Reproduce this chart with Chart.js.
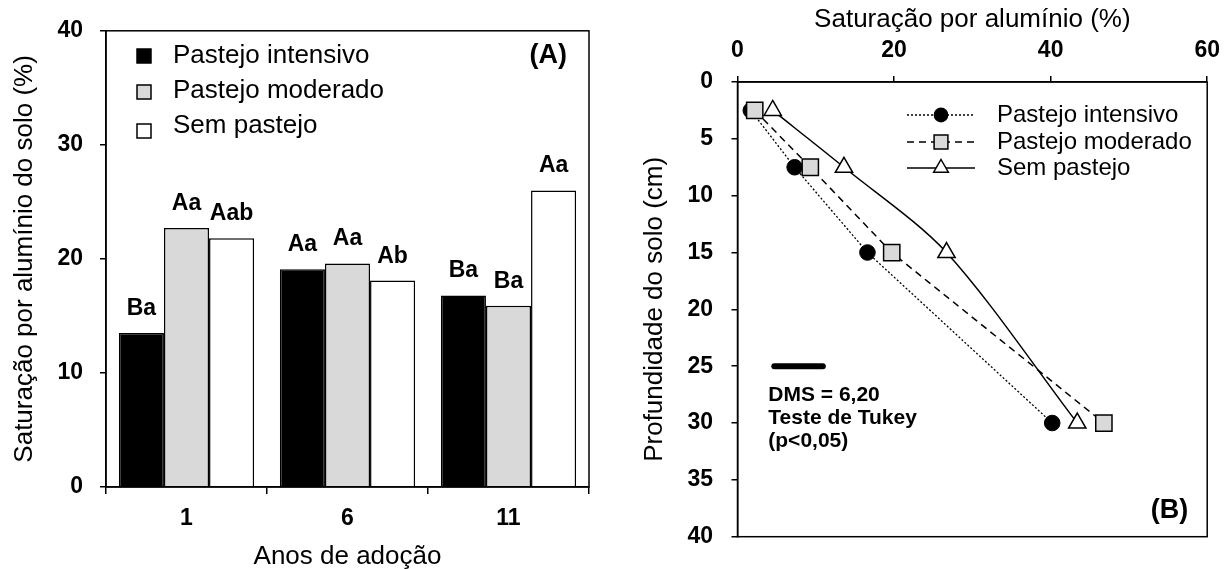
<!DOCTYPE html>
<html lang="pt">
<head>
<meta charset="UTF-8">
<title>Saturação por alumínio</title>
<script src="https://cdn.jsdelivr.net/npm/chart.js@4"></script>
<style>
  html, body { margin: 0; padding: 0; background: #fff; overflow: hidden; }
  canvas { position: absolute; top: 0; }
</style>
</head>
<body>
<canvas id="barChart" width="616" height="569" style="left:0"></canvas>
<canvas id="depthChart" width="616" height="569" style="left:616px"></canvas>
<script>
const FONT = '"Liberation Sans", Arial, sans-serif';
Chart.defaults.font.family = FONT;
Chart.defaults.color = '#000';

// (A) anos de adoção
const anos = ['1', '6', '11'];
const barIntensivo = [13.5, 19.1, 16.8];
const barModerado = [22.7, 19.6, 15.9];
const barSemPastejo = [21.8, 18.1, 26.0];
const letrasIntensivo = ['Ba', 'Aa', 'Ba'];
const letrasModerado = ['Aa', 'Aa', 'Ba'];
const letrasSemPastejo = ['Aab', 'Ab', 'Aa'];

// (B) perfil do solo
const profundidade = [2.5, 7.5, 15, 30];
const perfilIntensivo = [1.7, 7.3, 16.6, 40.2];
const perfilModerado = [2.2, 9.3, 19.7, 46.8];
const perfilSemPastejo = [4.5, 13.6, 26.7, 43.4];
const dmsValor = 6.2;
const dmsInicio = 4.7;
const dmsProf = 25;
const dmsTexto = ['DMS = 6,20', 'Teste de Tukey', '(p<0,05)'];

const tickFont = { size: 23, weight: 'bold' };
const titleFont = { size: 26 };

// moldura em volta da area do grafico
const boxPlugin = {
  id: 'box',
  afterDatasetsDraw(chart) {
    const { ctx, chartArea: a } = chart;
    ctx.save();
    ctx.strokeStyle = '#000';
    ctx.lineWidth = 1.5;
    ctx.strokeRect(a.left, a.top, a.right - a.left, a.bottom - a.top);
    ctx.restore();
  }
};

function drawMarker(ctx, style, x, y, r, fill) {
  ctx.save();
  ctx.setLineDash([]);
  ctx.fillStyle = fill;
  ctx.strokeStyle = '#000';
  ctx.lineWidth = 1.5;
  ctx.beginPath();
  if (style === 'circle') {
    ctx.arc(x, y, r, 0, Math.PI * 2);
  } else if (style === 'rect') {
    const s = r * Math.SQRT1_2;
    ctx.rect(x - s, y - s, 2 * s, 2 * s);
  } else {
    ctx.moveTo(x, y - r);
    ctx.lineTo(x + r * 0.866, y + r / 2);
    ctx.lineTo(x - r * 0.866, y + r / 2);
    ctx.closePath();
  }
  ctx.fill();
  ctx.stroke();
  ctx.restore();
}

// letras, legenda e (A)
const barExtras = {
  id: 'barExtras',
  afterDatasetsDraw(chart) {
    const ctx = chart.ctx;
    ctx.save();
    ctx.fillStyle = '#000';
    ctx.textAlign = 'center';
    ctx.textBaseline = 'alphabetic';
    ctx.font = 'bold 23px ' + FONT;
    chart.data.datasets.forEach((ds, i) => {
      chart.getDatasetMeta(i).data.forEach((bar, j) => {
        ctx.fillText(ds.letras[j], bar.x, bar.y - 18);
      });
    });

    const squareY = [56, 92, 131];
    const textY = [56, 91, 126];
    ctx.font = '26px ' + FONT;
    ctx.textAlign = 'left';
    ctx.textBaseline = 'middle';
    chart.data.datasets.forEach((ds, i) => {
      ctx.fillStyle = ds.backgroundColor;
      ctx.strokeStyle = '#000';
      ctx.lineWidth = 1.5;
      ctx.fillRect(137, squareY[i] - 7, 14, 14);
      ctx.strokeRect(137, squareY[i] - 7, 14, 14);
      ctx.fillStyle = '#000';
      ctx.fillText(ds.label, 173, textY[i]);
    });

    ctx.font = 'bold 27px ' + FONT;
    ctx.textAlign = 'right';
    ctx.fillText('(A)', chart.chartArea.right - 22, 56);
    ctx.restore();
  }
};

new Chart(document.getElementById('barChart'), {
  type: 'bar',
  data: {
    labels: anos,
    datasets: [
      { label: 'Pastejo intensivo', data: barIntensivo, letras: letrasIntensivo, backgroundColor: '#000000' },
      { label: 'Pastejo moderado', data: barModerado, letras: letrasModerado, backgroundColor: '#d9d9d9' },
      { label: 'Sem pastejo', data: barSemPastejo, letras: letrasSemPastejo, backgroundColor: '#ffffff' }
    ].map(d => Object.assign(d, {
      borderColor: '#000', borderWidth: 1.5, borderSkipped: 'bottom',
      categoryPercentage: 0.84, barPercentage: 1.0
    }))
  },
  options: {
    responsive: false,
    animation: false,
    layout: { padding: { left: 0, top: 27, right: 27, bottom: 0 } },
    plugins: { legend: { display: false }, tooltip: { enabled: false } },
    scales: {
      x: {
        grid: { offset: true, drawOnChartArea: false, color: '#000', lineWidth: 1.5, tickLength: 7 },
        border: { color: '#000', width: 1.5 },
        ticks: { font: tickFont, padding: 11 },
        title: { display: true, text: 'Anos de adoção', font: titleFont, padding: { top: 0, bottom: -3 } },
        afterFit(s) { s.height = 82; }
      },
      y: {
        min: 0, max: 40,
        grid: { drawOnChartArea: false, color: '#000', lineWidth: 1.5, tickLength: 6 },
        border: { color: '#000', width: 1.5 },
        ticks: { stepSize: 10, font: tickFont, padding: 17 },
        title: { display: true, text: 'Saturação por alumínio do solo (%)', font: titleFont, padding: { top: 9, bottom: 0 } },
        afterFit(s) { s.width = 106; }
      }
    }
  },
  plugins: [boxPlugin, barExtras]
});

// legenda, DMS e (B)
const depthExtras = {
  id: 'depthExtras',
  afterDatasetsDraw(chart) {
    const ctx = chart.ctx;
    const rows = [115, 142, 168];
    ctx.save();
    ctx.font = '24px ' + FONT;
    ctx.textAlign = 'left';
    ctx.textBaseline = 'middle';
    chart.data.datasets.forEach((ds, i) => {
      if (ds.noLegend) return;
      ctx.strokeStyle = '#000';
      ctx.lineWidth = ds.borderWidth;
      ctx.setLineDash(ds.borderDash || []);
      ctx.beginPath();
      ctx.moveTo(291, rows[i]);
      ctx.lineTo(359, rows[i]);
      ctx.stroke();
      drawMarker(ctx, ds.pointStyle, 325, rows[i], ds.pointRadius * 0.85, ds.pointBackgroundColor);
      ctx.fillStyle = '#000';
      ctx.fillText(ds.label, 381, rows[i]);
    });

    const xs = chart.scales.x, ys = chart.scales.y;
    ctx.font = 'bold 21px ' + FONT;
    const tx = xs.getPixelForValue(dmsInicio) - 6;
    const ty = ys.getPixelForValue(dmsProf) + 29;
    dmsTexto.forEach((t, k) => ctx.fillText(t, tx, ty + k * 23));

    ctx.font = 'bold 27px ' + FONT;
    ctx.textAlign = 'right';
    ctx.fillText('(B)', chart.chartArea.right - 19, chart.chartArea.bottom - 26);
    ctx.restore();
  }
};

const pontos = vals => profundidade.map((p, i) => ({ x: vals[i], y: p }));

new Chart(document.getElementById('depthChart'), {
  type: 'scatter',
  data: {
    datasets: [
      { label: 'Pastejo intensivo', data: pontos(perfilIntensivo), showLine: true,
        borderColor: '#000', borderWidth: 1.3, borderDash: [2, 2],
        pointStyle: 'circle', pointRadius: 7.8, pointBackgroundColor: '#000', pointBorderColor: '#000', pointBorderWidth: 1,
        order: 1 },
      { label: 'Pastejo moderado', data: pontos(perfilModerado), showLine: true,
        borderColor: '#000', borderWidth: 1.5, borderDash: [7, 5],
        pointStyle: 'rect', pointRadius: 11.5, pointBackgroundColor: '#d9d9d9', pointBorderColor: '#000', pointBorderWidth: 1.5,
        order: 0 },
      { label: 'Sem pastejo', data: pontos(perfilSemPastejo), showLine: true,
        borderColor: '#000', borderWidth: 1.5, tension: 0.3,
        pointStyle: 'triangle', pointRadius: 10, pointBackgroundColor: '#fff', pointBorderColor: '#000', pointBorderWidth: 1.5,
        order: 2 },
      { label: 'DMS', noLegend: true, showLine: true,
        data: [{ x: dmsInicio, y: dmsProf }, { x: dmsInicio + dmsValor, y: dmsProf }],
        borderColor: '#000', borderWidth: 6, borderCapStyle: 'round', pointRadius: 0,
        order: 3 }
    ]
  },
  options: {
    responsive: false,
    animation: false,
    layout: { padding: { left: 0, top: 0, right: 21, bottom: 26.5 } },
    plugins: { legend: { display: false }, tooltip: { enabled: false } },
    scales: {
      x: {
        type: 'linear', position: 'top', min: 0, max: 60,
        grid: { drawOnChartArea: false, color: '#000', lineWidth: 1.5, tickLength: 6 },
        border: { color: '#000', width: 1.5 },
        ticks: { stepSize: 20, font: tickFont, padding: 12 },
        title: { display: true, text: 'Saturação por alumínio (%)', font: titleFont, padding: { top: 4, bottom: 0 } },
        afterFit(s) { s.height = 82; }
      },
      y: {
        type: 'linear', reverse: true, min: 0, max: 40,
        grid: { drawOnChartArea: false, color: '#000', lineWidth: 1.5, tickLength: 6 },
        border: { color: '#000', width: 1.5 },
        ticks: { stepSize: 5, font: tickFont, padding: 18.5 },
        title: { display: true, text: 'Profundidade do solo (cm)', font: titleFont, padding: { top: 23, bottom: 0 } },
        afterFit(s) { s.width = 121.5; }
      }
    }
  },
  plugins: [boxPlugin, depthExtras]
});
</script>
</body>
</html>
